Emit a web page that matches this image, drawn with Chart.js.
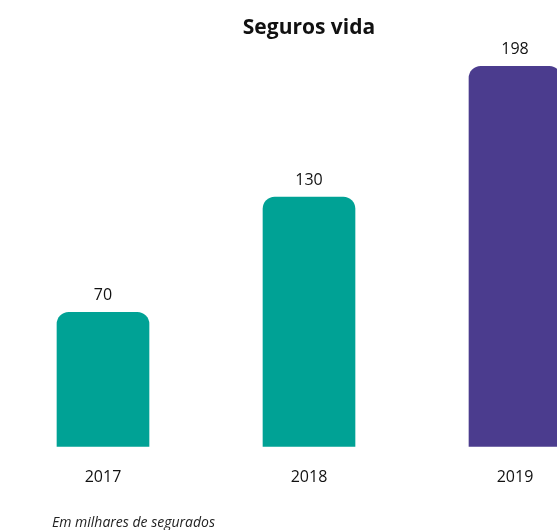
<!DOCTYPE html>
<html><head><meta charset="utf-8">
<script src="https://cdn.jsdelivr.net/npm/chart.js@4/dist/chart.umd.min.js"></script>
<style>
html,body{margin:0;padding:0;background:#fff;overflow:hidden;width:557px;height:530px;}
#wrap{position:absolute;left:0;top:0;width:618px;height:530px;}
#note{position:absolute;left:52px;top:512px;font:italic 14px "Open Sans",sans-serif;color:#222;white-space:nowrap;}
</style></head>
<body>
<div id="wrap"><canvas id="c" width="618" height="530"></canvas></div>
<div id="note">Em milhares de segurados</div>
<script>
const categories = ["2017", "2018", "2019"];
const values = [70, 130, 198];
const barColors = ["#00A295", "#00A295", "#4B3C8E"];
const titleText = "Seguros vida";

const valueLabels = {
  id: 'valueLabels',
  afterDatasetsDraw(chart) {
    const ctx = chart.ctx;
    const meta = chart.getDatasetMeta(0);
    ctx.save();
    ctx.font = '16px "Open Sans", sans-serif';
    ctx.fillStyle = '#111';
    ctx.textAlign = 'center';
    ctx.textBaseline = 'bottom';
    meta.data.forEach((bar, i) => {
      ctx.fillText(String(values[i]), bar.x, bar.y - 9);
    });
    ctx.restore();
  }
};

new Chart(document.getElementById('c'), {
  type: 'bar',
  data: {
    labels: categories,
    datasets: [{
      data: values,
      backgroundColor: barColors,
      barThickness: 92,
      borderRadius: {topLeft: 12, topRight: 12, bottomLeft: 0, bottomRight: 0},
      borderSkipped: 'bottom'
    }]
  },
  options: {
    responsive: false,
    animation: false,
    layout: {padding: {left: 0, right: 0, top: 0, bottom: 22}},
    plugins: {
      legend: {display: false},
      tooltip: {enabled: false},
      title: {
        display: true,
        text: titleText,
        color: '#111',
        font: {family: '"Open Sans", sans-serif', size: 21, weight: 'bold'},
        padding: {top: 15, bottom: 7}
      }
    },
    scales: {
      x: {
        grid: {display: false, drawTicks: false},
        border: {display: false},
        ticks: {color: '#111', padding: 21, font: {family: '"Open Sans", sans-serif', size: 16}}
      },
      y: {
        display: false,
        min: 0,
        max: 208
      }
    }
  },
  plugins: [valueLabels]
});
</script>
</body></html>
